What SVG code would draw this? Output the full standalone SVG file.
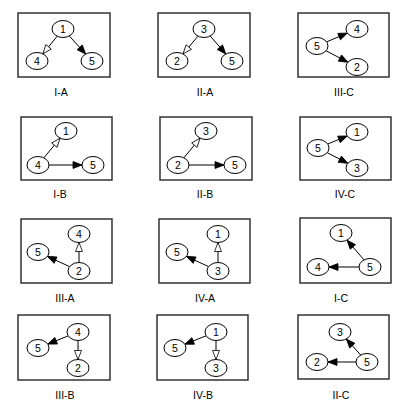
<svg xmlns="http://www.w3.org/2000/svg" width="409" height="414" viewBox="0 0 409 414">
<style>
.frame{fill:none;stroke:#333;stroke-width:1.5}
.n ellipse{fill:#fff;stroke:#000;stroke-width:1}
.n text{font-family:"Liberation Sans",Arial,sans-serif;font-size:10.5px;text-anchor:middle;fill:#000}
.lbl{font-family:"Liberation Sans",Arial,sans-serif;font-size:10.5px;text-anchor:middle;fill:#000}
.e{stroke:#000;stroke-width:1;fill:none}
.f{marker-end:url(#af)}
.o{marker-end:url(#ao)}
</style>
<defs>
<marker id="af" markerUnits="userSpaceOnUse" markerWidth="12" markerHeight="10" refX="9" refY="3.5" orient="auto" overflow="visible"><path d="M0,0 L9,3.5 L0,7 z" fill="#000" stroke="#000" stroke-width="0.8"/></marker>
<marker id="ao" markerUnits="userSpaceOnUse" markerWidth="12" markerHeight="10" refX="9" refY="3.5" orient="auto" overflow="visible"><path d="M0,0 L9,3.5 L0,7 z" fill="#fff" stroke="#000" stroke-width="0.8"/></marker>
</defs>
<g id="frames">
<rect class="frame" x="18" y="13" width="92" height="64"/>
<rect class="frame" x="158" y="13" width="92" height="64"/>
<rect class="frame" x="298" y="13" width="91" height="64"/>
<rect class="frame" x="21" y="117" width="91" height="63"/>
<rect class="frame" x="160" y="117" width="92" height="63"/>
<rect class="frame" x="300" y="117" width="91" height="63"/>
<rect class="frame" x="21" y="219" width="91" height="64"/>
<rect class="frame" x="159" y="219" width="91" height="64"/>
<rect class="frame" x="300" y="218" width="91" height="65"/>
<rect class="frame" x="18" y="315" width="92" height="65"/>
<rect class="frame" x="157" y="315" width="91" height="65"/>
<rect class="frame" x="298" y="315" width="91" height="64"/>
</g>
<g id="connectors">
<line class="e o" x1="57.2" y1="36.2" x2="42.9" y2="53.8"/>
<line class="e f" x1="69.3" y1="36" x2="85.7" y2="54"/>
<line class="e o" x1="198" y1="36.1" x2="183" y2="53.9"/>
<line class="e f" x1="210.2" y1="36" x2="225.8" y2="54"/>
<line class="e f" x1="326.6" y1="41.9" x2="347.4" y2="33.1"/>
<line class="e f" x1="326.1" y1="50.8" x2="347.9" y2="62.2"/>
<line class="e o" x1="43.9" y1="157.8" x2="60.1" y2="138.2"/>
<line class="e f" x1="49" y1="165" x2="82" y2="165"/>
<line class="e o" x1="183.9" y1="157.8" x2="200.1" y2="138.2"/>
<line class="e f" x1="189" y1="165" x2="224" y2="165"/>
<line class="e f" x1="327.7" y1="144" x2="347.3" y2="136"/>
<line class="e f" x1="327.2" y1="152.7" x2="347.8" y2="163.3"/>
<line class="e o" x1="79" y1="262.5" x2="79" y2="242.5"/>
<line class="e f" x1="69.6" y1="266.6" x2="47.4" y2="256.4"/>
<line class="e o" x1="218" y1="262.5" x2="218" y2="242.5"/>
<line class="e f" x1="208.6" y1="266.6" x2="186.4" y2="256.4"/>
<line class="e f" x1="364" y1="259.9" x2="347" y2="240.1"/>
<line class="e f" x1="359" y1="267" x2="329" y2="267"/>
<line class="e f" x1="68.2" y1="335.9" x2="47.8" y2="344.1"/>
<line class="e o" x1="78" y1="340.5" x2="78" y2="359.5"/>
<line class="e f" x1="206.2" y1="335.8" x2="184.8" y2="344.2"/>
<line class="e o" x1="216" y1="340.5" x2="216" y2="359.5"/>
<line class="e f" x1="360.7" y1="355" x2="346.3" y2="339"/>
<line class="e f" x1="356" y1="362" x2="328" y2="362"/>
</g>
<g id="IA-1" class="n"><ellipse cx="63" cy="29" rx="11" ry="8.5"/><text x="63" y="32.7">1</text></g>
<g id="IA-4" class="n"><ellipse cx="37" cy="61" rx="11" ry="8.5"/><text x="37" y="64.7">4</text></g>
<g id="IA-5" class="n"><ellipse cx="92" cy="61" rx="11" ry="8.5"/><text x="92" y="64.7">5</text></g>
<g id="IIA-3" class="n"><ellipse cx="204" cy="29" rx="11" ry="8.5"/><text x="204" y="32.7">3</text></g>
<g id="IIA-2" class="n"><ellipse cx="177" cy="61" rx="11" ry="8.5"/><text x="177" y="64.7">2</text></g>
<g id="IIA-5" class="n"><ellipse cx="232" cy="61" rx="11" ry="8.5"/><text x="232" y="64.7">5</text></g>
<g id="IIIC-4" class="n"><ellipse cx="357" cy="29" rx="11" ry="8.5"/><text x="357" y="32.7">4</text></g>
<g id="IIIC-5" class="n"><ellipse cx="317" cy="46" rx="11" ry="8.5"/><text x="317" y="49.7">5</text></g>
<g id="IIIC-2" class="n"><ellipse cx="357" cy="67" rx="11" ry="8.5"/><text x="357" y="70.7">2</text></g>
<g id="IB-1" class="n"><ellipse cx="66" cy="131" rx="11" ry="8.5"/><text x="66" y="134.7">1</text></g>
<g id="IB-4" class="n"><ellipse cx="38" cy="165" rx="11" ry="8.5"/><text x="38" y="168.7">4</text></g>
<g id="IB-5" class="n"><ellipse cx="93" cy="165" rx="11" ry="8.5"/><text x="93" y="168.7">5</text></g>
<g id="IIB-3" class="n"><ellipse cx="206" cy="131" rx="11" ry="8.5"/><text x="206" y="134.7">3</text></g>
<g id="IIB-2" class="n"><ellipse cx="178" cy="165" rx="11" ry="8.5"/><text x="178" y="168.7">2</text></g>
<g id="IIB-5" class="n"><ellipse cx="235" cy="165" rx="11" ry="8.5"/><text x="235" y="168.7">5</text></g>
<g id="IVC-1" class="n"><ellipse cx="357" cy="132" rx="11" ry="8.5"/><text x="357" y="135.7">1</text></g>
<g id="IVC-5" class="n"><ellipse cx="318" cy="148" rx="11" ry="8.5"/><text x="318" y="151.7">5</text></g>
<g id="IVC-3" class="n"><ellipse cx="357" cy="168" rx="11" ry="8.5"/><text x="357" y="171.7">3</text></g>
<g id="IIIA-4" class="n"><ellipse cx="79" cy="234" rx="11" ry="8.5"/><text x="79" y="237.7">4</text></g>
<g id="IIIA-5" class="n"><ellipse cx="38" cy="252" rx="11" ry="8.5"/><text x="38" y="255.7">5</text></g>
<g id="IIIA-2" class="n"><ellipse cx="79" cy="271" rx="11" ry="8.5"/><text x="79" y="274.7">2</text></g>
<g id="IVA-1" class="n"><ellipse cx="218" cy="234" rx="11" ry="8.5"/><text x="218" y="237.7">1</text></g>
<g id="IVA-5" class="n"><ellipse cx="177" cy="252" rx="11" ry="8.5"/><text x="177" y="255.7">5</text></g>
<g id="IVA-3" class="n"><ellipse cx="218" cy="271" rx="11" ry="8.5"/><text x="218" y="274.7">3</text></g>
<g id="IC-1" class="n"><ellipse cx="341" cy="233" rx="11" ry="8.5"/><text x="341" y="236.7">1</text></g>
<g id="IC-4" class="n"><ellipse cx="318" cy="267" rx="11" ry="8.5"/><text x="318" y="270.7">4</text></g>
<g id="IC-5" class="n"><ellipse cx="370" cy="267" rx="11" ry="8.5"/><text x="370" y="270.7">5</text></g>
<g id="IIIB-4" class="n"><ellipse cx="78" cy="332" rx="11" ry="8.5"/><text x="78" y="335.7">4</text></g>
<g id="IIIB-5" class="n"><ellipse cx="38" cy="348" rx="11" ry="8.5"/><text x="38" y="351.7">5</text></g>
<g id="IIIB-2" class="n"><ellipse cx="78" cy="368" rx="11" ry="8.5"/><text x="78" y="371.7">2</text></g>
<g id="IVB-1" class="n"><ellipse cx="216" cy="332" rx="11" ry="8.5"/><text x="216" y="335.7">1</text></g>
<g id="IVB-5" class="n"><ellipse cx="175" cy="348" rx="11" ry="8.5"/><text x="175" y="351.7">5</text></g>
<g id="IVB-3" class="n"><ellipse cx="216" cy="368" rx="11" ry="8.5"/><text x="216" y="371.7">3</text></g>
<g id="IIC-3" class="n"><ellipse cx="340" cy="332" rx="11" ry="8.5"/><text x="340" y="335.7">3</text></g>
<g id="IIC-2" class="n"><ellipse cx="317" cy="362" rx="11" ry="8.5"/><text x="317" y="365.7">2</text></g>
<g id="IIC-5" class="n"><ellipse cx="367" cy="362" rx="11" ry="8.5"/><text x="367" y="365.7">5</text></g>
<g id="labels">
<text class="lbl" x="61" y="96">I-A</text>
<text class="lbl" x="205" y="96">II-A</text>
<text class="lbl" x="344" y="96">III-C</text>
<text class="lbl" x="60" y="198">I-B</text>
<text class="lbl" x="205" y="198">II-B</text>
<text class="lbl" x="345" y="198">IV-C</text>
<text class="lbl" x="65" y="302">III-A</text>
<text class="lbl" x="205" y="302">IV-A</text>
<text class="lbl" x="341" y="302">I-C</text>
<text class="lbl" x="65" y="399">III-B</text>
<text class="lbl" x="203" y="399">IV-B</text>
<text class="lbl" x="341" y="399">II-C</text>
</g>
</svg>
